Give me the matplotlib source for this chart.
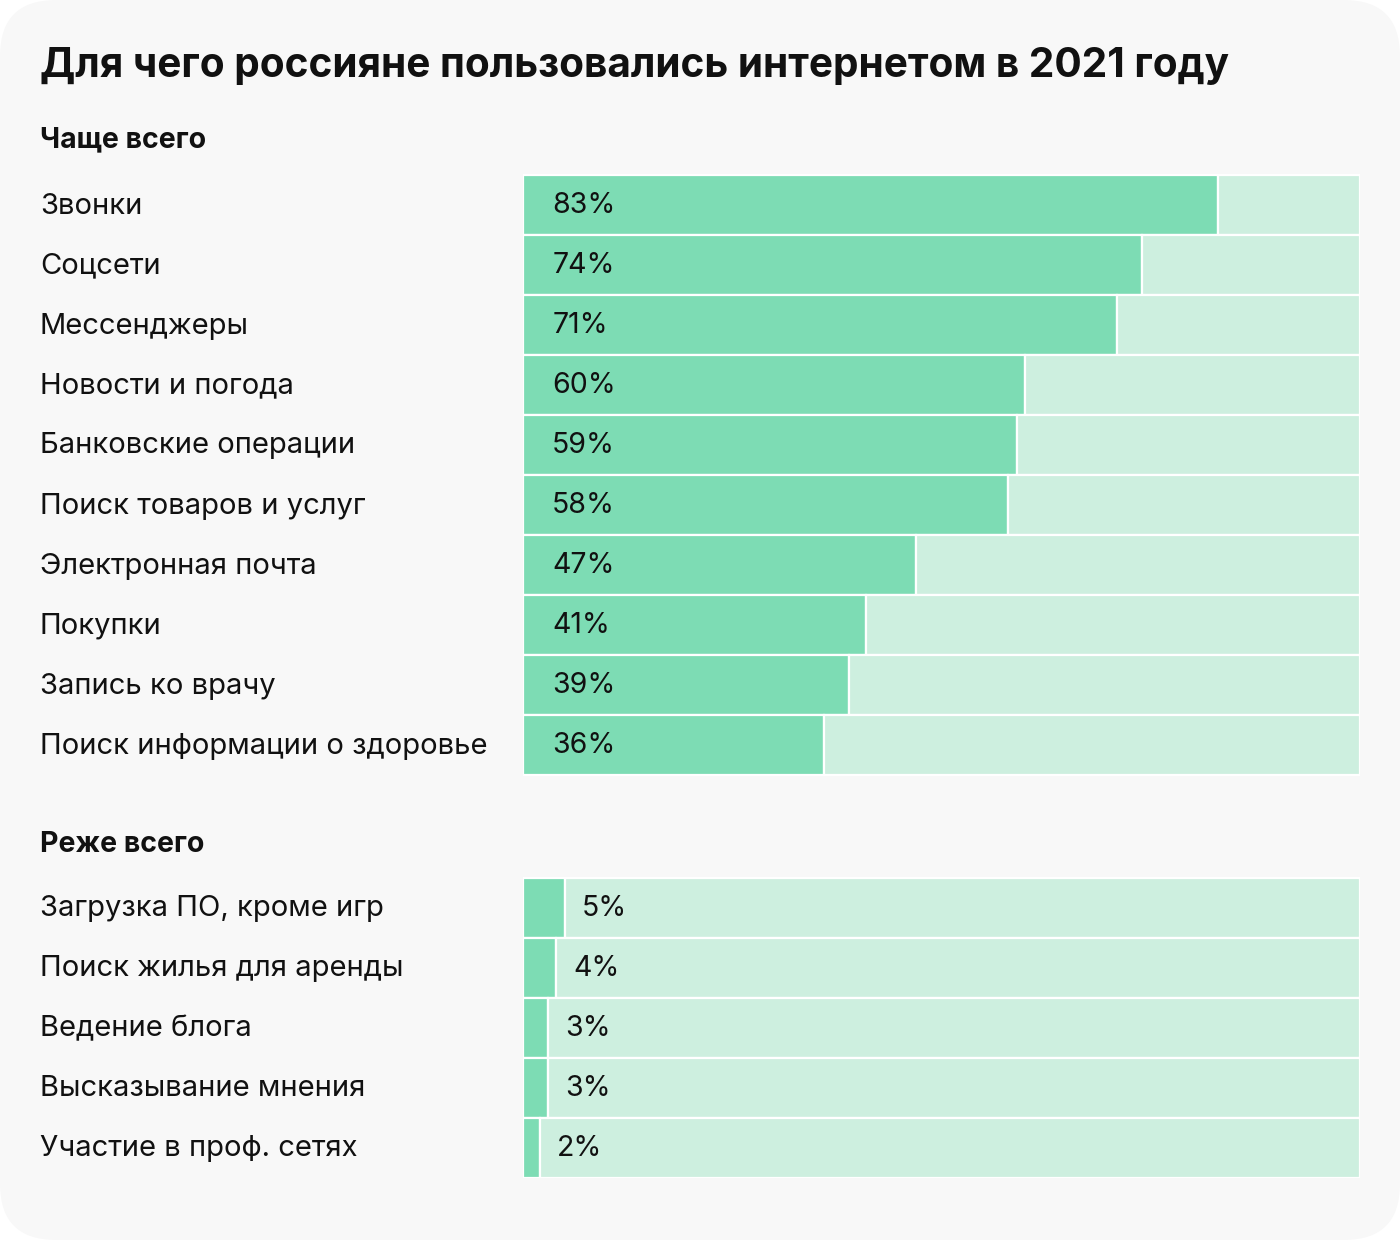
import matplotlib.pyplot as plt
from matplotlib.patches import FancyBboxPatch

plt.rcParams['font.family'] = ['Inter', 'DejaVu Sans']

title = "Для чего россияне пользовались интернетом в 2021 году"
top_header = "Чаще всего"
bottom_header = "Реже всего"

top_labels = ["Звонки", "Соцсети", "Мессенджеры", "Новости и погода",
              "Банковские операции", "Поиск товаров и услуг",
              "Электронная почта", "Покупки", "Запись ко врачу",
              "Поиск информации о здоровье"]
top_values = [83, 74, 71, 60, 59, 58, 47, 41, 39, 36]

bottom_labels = ["Загрузка ПО, кроме игр", "Поиск жилья для аренды",
                 "Ведение блога", "Высказывание мнения",
                 "Участие в проф. сетях"]
bottom_values = [5, 4, 3, 3, 2]

DARK = "#7ddcb4"
LIGHT = "#cdefdf"
BG = "#f8f8f8"
W, H = 1400, 1240

fig = plt.figure(figsize=(14, 12.4), dpi=100)
fig.patch.set_facecolor("white")
card = FancyBboxPatch((0, 0), 1, 1, boxstyle="round,pad=0,rounding_size=0.04",
                      transform=fig.transFigure, facecolor=BG, edgecolor="none",
                      mutation_aspect=W / H, zorder=-10)
fig.patches.append(card)

# axes over the bar area, y in pixel rows
ax = fig.add_axes([523 / W, 1 - 1178 / H, (1360 - 523) / W, (1178 - 174) / H])
ax.set_xlim(0, 100)
ax.set_ylim(1178, 174)
ax.axis("off")


def draw_rows(labels, values, y0):
    for i, (lab, v) in enumerate(zip(labels, values)):
        y = y0 + 60 * i
        ax.barh(y, v, height=60, color=DARK, edgecolor="white", linewidth=1.6)
        ax.barh(y, 100 - v, left=v, height=60, color=LIGHT, edgecolor="white", linewidth=1.6)
        fig.text(40 / W, 1 - (y + 1) / H, lab, fontsize=21, ha="left", va="center",
                 color="#111111")
        if v >= 10:
            ax.annotate(f"{v}%", (0, y), xytext=(21, -0.7), textcoords="offset points",
                        ha="left", va="center", fontsize=20.5, color="#111111")
        else:
            ax.annotate(f"{v}%", (v, y), xytext=(12.5, -0.7), textcoords="offset points",
                        ha="left", va="center", fontsize=20.5, color="#111111")


draw_rows(top_labels, top_values, 205)
draw_rows(bottom_labels, bottom_values, 908)

fig.text(40 / W, 1 - 66 / H, title, fontsize=29.2, fontweight="bold",
         ha="left", va="center", color="#111111")
fig.text(40 / W, 1 - 140 / H, top_header, fontsize=20.5, fontweight="bold",
         ha="left", va="center", color="#111111")
fig.text(40 / W, 1 - 844 / H, bottom_header, fontsize=20.5, fontweight="bold",
         ha="left", va="center", color="#111111")

fig.savefig("out.png", dpi=100, facecolor="white")
